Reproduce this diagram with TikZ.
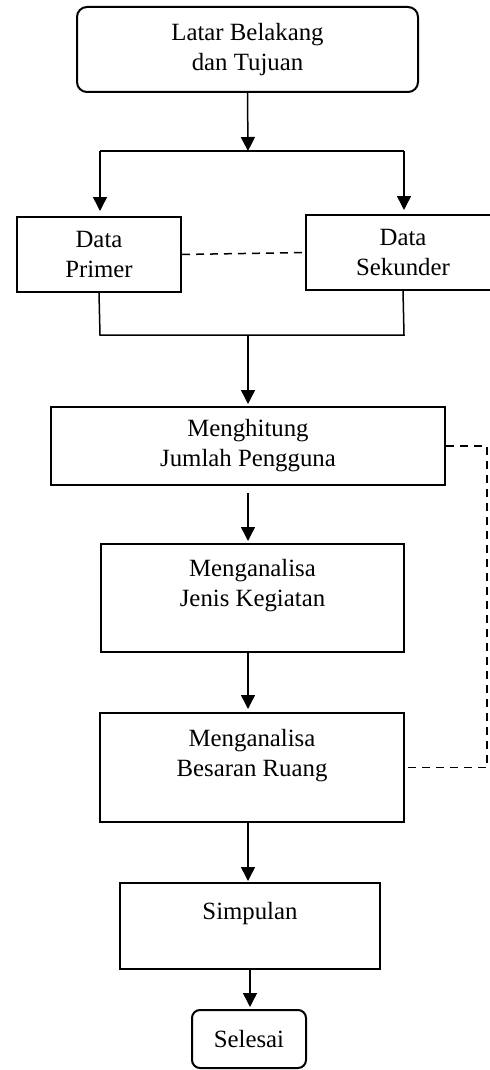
\documentclass[tikz,border=0pt]{standalone}
\usepackage{fontspec}
\setmainfont{Liberation Serif}
\usepackage{tikz}
\usetikzlibrary{arrows.meta,positioning}

\begin{document}
\begin{tikzpicture}[x=0.5pt,y=-0.5pt,
box/.style={draw,line width=1pt,rectangle,inner sep=0pt,align=center,
    font=\fontsize{12.4}{15}\selectfont},
rbox/.style={box,rounded corners=5pt},
arr/.style={line width=0.75pt,-{Triangle[width=7pt,length=7pt]}},
line/.style={line width=0.75pt},
dashline/.style={line width=0.75pt,dashed,dash pattern=on 4pt off 3pt}]
\useasboundingbox (0,0) rectangle (490,1070);

\node (start) [rbox,minimum width=170.5pt,minimum height=42.5pt] at (247.5,49.5)
    {Latar Belakang\\dan Tujuan};
\node (primer) [box,minimum width=82pt,minimum height=37.5pt] at (99,254.5)
    {Data\\Primer};
\node (sekunder) [box,minimum width=97pt,minimum height=37.5pt] at (403,252.5)
    {Data\\Sekunder};
\node (hitung) [box,minimum width=197pt,minimum height=39pt] at (248,446)
    {Menghitung\\Jumlah Pengguna};
\node (jenis) [box,minimum width=151.5pt,minimum height=54pt] at (252.5,598)
    {Menganalisa\\Jenis Kegiatan\\\mbox{}};
\node (ruang) [box,minimum width=152pt,minimum height=54.5pt] at (252,767.5)
    {Menganalisa\\Besaran Ruang\\\mbox{}};
\node (simpulan) [box,minimum width=130pt,minimum height=43pt] at (250,926)
    {Simpulan\\\mbox{}};
\node (selesai) [rbox,rounded corners=4pt,minimum width=57pt,minimum height=29pt] at (249,1039)
    {Selesai};

\coordinate (split) at (248,151);
\coordinate (merge) at (248,335);

% branch to the two data boxes
\draw [arr] (start.south) -- (split);
\draw [line] (100,151) -- (404,151);
\draw [arr,shorten >=3pt] (100,151) -- (100,217);
\draw [arr,shorten >=2.5pt] (404,151) -- (404,215);
\draw [dashline] (primer.east) -- (sekunder.west);

% join again
\draw [line] (primer.south) -- (100,335) -- (404,335) -- (sekunder.south);
\draw [arr,shorten >=1pt] (merge) -- (hitung.north);

\draw [arr,shorten <=3.5pt,shorten >=1pt] (hitung.south) -- (hitung.south |- jenis.north);
\draw [arr,shorten >=1.5pt] (jenis.south -| hitung.south) -- (ruang.north -| hitung.south);
\draw [arr,shorten >=0.5pt] (ruang.south -| hitung.south) -- (simpulan.north -| hitung.south);
\draw [arr,shorten >=1pt] (simpulan.south) -- (selesai.north -| simpulan.south);

\draw [dashline] (hitung.east) -- ++(41,0) |- (ruang.east);
\end{tikzpicture}
\end{document}
